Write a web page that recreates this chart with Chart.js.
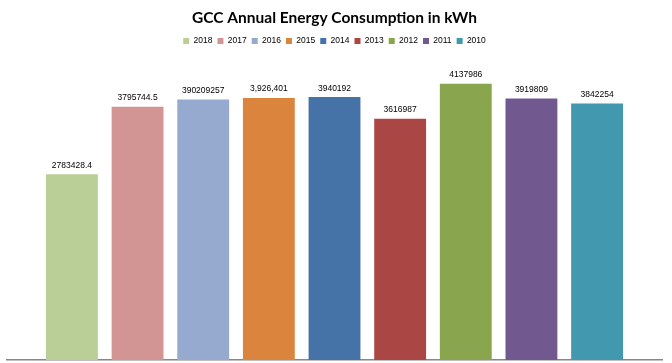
<!DOCTYPE html>
<html>
<head>
<meta charset="utf-8">
<script src="https://cdn.jsdelivr.net/npm/chart.js@4"></script>
<style>
html,body{margin:0;padding:0;background:#fff;}
#wrap{width:672px;height:363px;}
</style>
</head>
<body>
<div id="wrap"><canvas id="c" width="672" height="363"></canvas></div>
<script>
const years = ['2018','2017','2016','2015','2014','2013','2012','2011','2010'];
const values = [2783428.4, 3795744.5, 3902092.57, 3926401, 3940192, 3616987, 4137986, 3919809, 3842254];
const valueLabels = ['2783428.4','3795744.5','390209257','3,926,401','3940192','3616987','4137986','3919809','3842254'];
const colors = ['#BACF97','#D39593','#96AAD0','#DB843D','#4573A7','#AA4644','#89A54E','#71588F','#4198AF'];

const datasets = years.map((y, i) => ({
  label: y,
  data: [values[i]],
  backgroundColor: colors[i],
  borderWidth: 0,
  categoryPercentage: 0.902,
  barPercentage: 0.79
}));

const LEGEND_EXTRA = 4.5;

const legendSpace = {
  id: 'legendSpace',
  beforeInit(chart) {
    const lg = chart.legend;
    if (!lg) return;
    const orig = lg.fit;
    lg.fit = function () {
      orig.call(this);
      this.height += LEGEND_EXTRA;
    };
  }
};

const labelPlugin = {
  id: 'valueLabels',
  afterDatasetsDraw(chart) {
    const ctx = chart.ctx;
    ctx.save();
    ctx.font = '8.5px "Liberation Sans", Arial, sans-serif';
    ctx.fillStyle = '#000';
    ctx.textAlign = 'center';
    ctx.textBaseline = 'alphabetic';
    chart.data.datasets.forEach((ds, i) => {
      const el = chart.getDatasetMeta(i).data[0];
      ctx.fillText(valueLabels[i], el.x, el.y - 6.5);
    });
    ctx.restore();
  }
};

new Chart(document.getElementById('c'), {
  type: 'bar',
  data: { labels: [''], datasets },
  plugins: [legendSpace, labelPlugin],
  options: {
    responsive: false,
    animation: false,
    events: [],
    layout: { padding: { left: 7, right: 10, top: 0, bottom: 3 } },
    plugins: {
      title: {
        display: true,
        text: 'GCC Annual Energy Consumption in kWh',
        color: '#000',
        font: { family: 'Lato', size: 15.5, weight: 'bold' },
        padding: { top: 9, bottom: 4 }
      },
      legend: {
        display: true,
        position: 'top',
        labels: {
          boxWidth: 6,
          boxHeight: 6,
          padding: 5.1,
          color: '#000',
          font: { family: '"Liberation Sans", Arial, sans-serif', size: 8.5 }
        }
      },
      tooltip: { enabled: false }
    },
    scales: {
      x: {
        ticks: { display: false },
        grid: { display: true, color: 'rgba(0,0,0,0)', drawTicks: false },
        border: { display: true, color: '#878787', width: 1.5 }
      },
      y: {
        display: false,
        min: 0,
        max: 4500000
      }
    }
  }
});
</script>
</body>
</html>
